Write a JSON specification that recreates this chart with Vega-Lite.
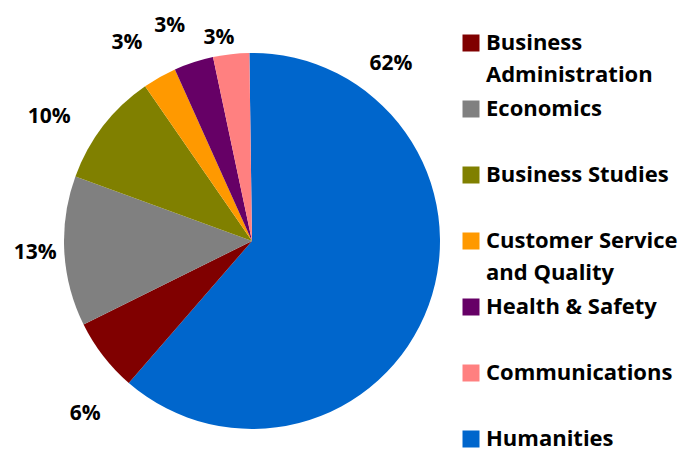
{
  "$schema": "https://vega.github.io/schema/vega-lite/v6.json",
  "width": 504,
  "height": 420,
  "padding": {"left": 0, "top": 31, "right": 180, "bottom": 0},
  "autosize": {"type": "none"},
  "background": "white",
  "config": {"view": {"stroke": null}},
  "data": {
    "values": [
      {"category": "Humanities", "value": 61.6, "label": "62%", "order": 1},
      {"category": "Business Administration", "value": 6.3, "label": "6%", "order": 2},
      {"category": "Economics", "value": 12.9, "label": "13%", "order": 3},
      {"category": "Business Studies", "value": 9.8, "label": "10%", "order": 4},
      {"category": "Customer Service and Quality", "value": 2.9, "label": "3%", "order": 5},
      {"category": "Health & Safety", "value": 3.4, "label": "3%", "order": 6},
      {"category": "Communications", "value": 3.1, "label": "3%", "order": 7}
    ]
  },
  "encoding": {
    "theta": {"field": "value", "type": "quantitative", "stack": true, "scale": {"range": [-0.014, 6.269]}},
    "order": {"field": "order", "type": "quantitative", "sort": "ascending"}
  },
  "layer": [
    {
      "mark": {"type": "arc", "radius": 188},
      "encoding": {
        "color": {
          "field": "category",
          "type": "nominal",
          "scale": {
            "domain": ["Business Administration", "Economics", "Business Studies", "Customer Service and Quality", "Health & Safety", "Communications", "Humanities"],
            "range": ["#800000", "#808080", "#808000", "#FF9900", "#660066", "#FF8080", "#0066CC"]
          },
          "legend": {
            "orient": "none",
            "legendX": 460,
            "legendY": 1,
            "title": null,
            "symbolType": "square",
            "symbolSize": 289,
            "symbolStrokeWidth": 0,
            "labelFont": "Open Sans",
            "labelFontWeight": "bold",
            "labelFontSize": 22,
            "labelColor": "black",
            "labelLimit": 0,
            "labelOffset": 4,
            "labelBaseline": "top",
            "gridAlign": "all",
            "rowPadding": 12.0,
            "labelExpr": "datum.label == 'Business Administration' ? ['Business', 'Administration'] : datum.label == 'Customer Service and Quality' ? ['Customer Service', 'and Quality'] : datum.label",
            "encode": {"labels": {"update": {"lineHeight": {"value": 31.7}, "dy": {"value": -10}}}}
          }
        }
      }
    },
    {
      "mark": {"type": "text", "radius": 225, "thetaOffset": -1.255, "font": "Open Sans", "fontWeight": "bold", "fontSize": 21, "color": "black"},
      "encoding": {"text": {"condition": {"test": "datum.category === 'Humanities'", "field": "label"}, "value": ""}}
    },
    {
      "mark": {"type": "text", "radius": 240, "thetaOffset": -0.145, "font": "Open Sans", "fontWeight": "bold", "fontSize": 21, "color": "black"},
      "encoding": {"text": {"condition": {"test": "datum.category === 'Business Administration'", "field": "label"}, "value": ""}}
    },
    {
      "mark": {"type": "text", "radius": 217, "font": "Open Sans", "fontWeight": "bold", "fontSize": 21, "color": "black"},
      "encoding": {"text": {"condition": {"test": "datum.category === 'Economics'", "field": "label"}, "value": ""}}
    },
    {
      "mark": {"type": "text", "radius": 238, "thetaOffset": -0.108, "font": "Open Sans", "fontWeight": "bold", "fontSize": 21, "color": "black"},
      "encoding": {"text": {"condition": {"test": "datum.category === 'Business Studies'", "field": "label"}, "value": ""}}
    },
    {
      "mark": {"type": "text", "radius": 234, "thetaOffset": -0.05, "font": "Open Sans", "fontWeight": "bold", "fontSize": 21, "color": "black"},
      "encoding": {"text": {"condition": {"test": "datum.category === 'Customer Service and Quality'", "field": "label"}, "value": ""}}
    },
    {
      "mark": {"type": "text", "radius": 230, "thetaOffset": -0.05, "font": "Open Sans", "fontWeight": "bold", "fontSize": 21, "color": "black"},
      "encoding": {"text": {"condition": {"test": "datum.category === 'Health & Safety'", "field": "label"}, "value": ""}}
    },
    {
      "mark": {"type": "text", "radius": 206, "thetaOffset": -0.05, "font": "Open Sans", "fontWeight": "bold", "fontSize": 21, "color": "black"},
      "encoding": {"text": {"condition": {"test": "datum.category === 'Communications'", "field": "label"}, "value": ""}}
    }
  ]
}
